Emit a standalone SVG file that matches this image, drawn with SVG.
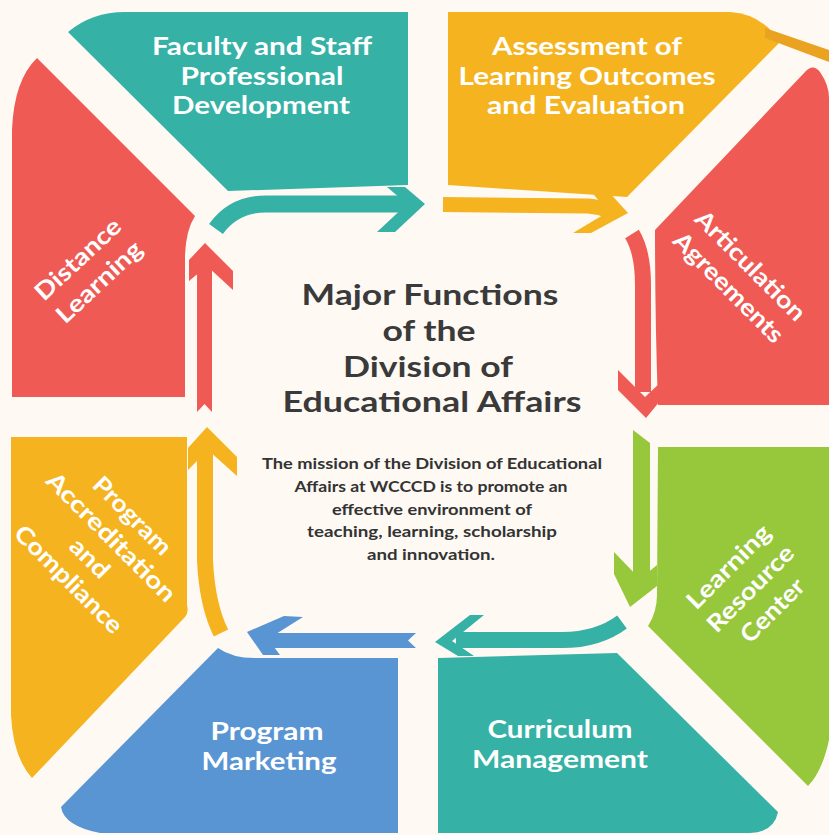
<svg xmlns="http://www.w3.org/2000/svg" width="829" height="835" viewBox="0 0 829 835">
<style>
.lbl{font-family:Lato,"Open Sans","Liberation Sans",sans-serif;font-weight:700;fill:#ffffff;font-size:24px;text-anchor:middle}
.ttl{font-family:Lato,"Open Sans","Liberation Sans",sans-serif;font-weight:700;fill:#3a3a3a;font-size:29px;text-anchor:middle}
.msn{font-family:Lato,"Open Sans","Liberation Sans",sans-serif;font-weight:700;fill:#333333;font-size:15.5px;text-anchor:middle}
.teal{fill:#35B1A6}.orange{fill:#F5B41F}.red{fill:#EF5A55}.green{fill:#97C83C}.blue{fill:#5A95D3}
.s{fill:none;stroke-linecap:butt;stroke-linejoin:round}
</style>
<rect width="829" height="835" fill="#FEF9F3"/>

<g id="faculty">
<path class="teal" d="M68,32 Q92,12 125,12 L408,12 L408,185 L228,191 Z"/>
<text class="lbl" x="262" y="55" textLength="220" lengthAdjust="spacingAndGlyphs">Faculty and Staff</text>
<text class="lbl" x="262" y="84.5" textLength="163" lengthAdjust="spacingAndGlyphs">Professional</text>
<text class="lbl" x="261" y="114" textLength="178" lengthAdjust="spacingAndGlyphs">Development</text>
</g>

<g id="assessment">
<path class="orange" d="M448,12 L730,12 Q762,14 780,42 L627,197 L448,185 Z"/>
<polygon points="765,28 829,50 829,62 765,38" fill="#E9A321"/>
<text class="lbl" x="587" y="55" textLength="190" lengthAdjust="spacingAndGlyphs">Assessment of</text>
<text class="lbl" x="587" y="84.5" textLength="257" lengthAdjust="spacingAndGlyphs">Learning Outcomes</text>
<text class="lbl" x="586" y="114" textLength="198" lengthAdjust="spacingAndGlyphs">and Evaluation</text>
</g>

<g id="articulation">
<path class="red" d="M655,230 L805,72 Q813,63 820,72 Q829,85 829,98 L829,405 L658,405 Q655,320 655,230 Z"/>
<g transform="translate(740,276) rotate(45)">
<text class="lbl" x="0" y="-6.5" textLength="145" lengthAdjust="spacingAndGlyphs">Articulation</text>
<text class="lbl" x="0" y="24.5" textLength="145" lengthAdjust="spacingAndGlyphs">Agreements</text>
</g>
</g>

<g id="lrc">
<path class="green" d="M658,447 L829,447 L829,740 Q822,772 808,786 L648,626 Q657,612 657,595 Z"/>
<g transform="translate(750,588) rotate(-45)">
<text class="lbl" x="0" y="-22" textLength="108" lengthAdjust="spacingAndGlyphs">Learning</text>
<text class="lbl" x="0" y="9" textLength="112" lengthAdjust="spacingAndGlyphs">Resource</text>
<text class="lbl" x="0" y="40" textLength="80" lengthAdjust="spacingAndGlyphs">Center</text>
</g>
</g>

<g id="curriculum">
<path class="teal" d="M438,658 L617,653 L778,812 Q774,832 750,833 L438,833 Z"/>
<text class="lbl" x="560" y="738" textLength="145" lengthAdjust="spacingAndGlyphs">Curriculum</text>
<text class="lbl" x="560" y="768" textLength="176" lengthAdjust="spacingAndGlyphs">Management</text>
</g>

<g id="marketing">
<path class="blue" d="M398,658 L398,833 L100,833 Q64,826 61,807 L218,648 Q232,658 255,658 Z"/>
<text class="lbl" x="267" y="740" textLength="113" lengthAdjust="spacingAndGlyphs">Program</text>
<text class="lbl" x="269" y="770" textLength="135" lengthAdjust="spacingAndGlyphs">Marketing</text>
</g>

<g id="accreditation">
<path class="orange" d="M11,437 L187,437 L187,605 Q189,612 185,617 L32,778 Q13,757 11,715 Z"/>
<g transform="translate(101,547) rotate(45)">
<text class="lbl" x="0" y="-36" textLength="100" lengthAdjust="spacingAndGlyphs">Program</text>
<text class="lbl" x="0" y="-6" textLength="172" lengthAdjust="spacingAndGlyphs">Accreditation</text>
<text class="lbl" x="0" y="24" textLength="46" lengthAdjust="spacingAndGlyphs">and</text>
<text class="lbl" x="0" y="54" textLength="142" lengthAdjust="spacingAndGlyphs">Compliance</text>
</g>
</g>

<g id="distance">
<path class="red" d="M12,397 L12,130 Q14,80 37,58 L195,216 Q186,230 185,255 L185,397 Z"/>
<g transform="translate(88,270) rotate(-43)">
<text class="lbl" x="0" y="-6.5" textLength="108" lengthAdjust="spacingAndGlyphs">Distance</text>
<text class="lbl" x="0" y="24.5" textLength="108" lengthAdjust="spacingAndGlyphs">Learning</text>
</g>
</g>

<g id="center">
<text class="ttl" x="430" y="305" textLength="257" lengthAdjust="spacingAndGlyphs">Major Functions</text>
<text class="ttl" x="429" y="341" textLength="93" lengthAdjust="spacingAndGlyphs">of the</text>
<text class="ttl" x="428" y="377" textLength="170" lengthAdjust="spacingAndGlyphs">Division of</text>
<text class="ttl" x="432" y="412" textLength="299" lengthAdjust="spacingAndGlyphs">Educational Affairs</text>
<text class="msn" x="432" y="469" textLength="340" lengthAdjust="spacingAndGlyphs">The mission of the Division of Educational</text>
<text class="msn" x="431" y="492" textLength="273" lengthAdjust="spacingAndGlyphs">Affairs at WCCCD is to promote an</text>
<text class="msn" x="432" y="515" textLength="200" lengthAdjust="spacingAndGlyphs">effective environment of</text>
<text class="msn" x="432" y="537" textLength="250" lengthAdjust="spacingAndGlyphs">teaching, learning, scholarship</text>
<text class="msn" x="431" y="560" textLength="128" lengthAdjust="spacingAndGlyphs">and innovation.</text>
</g>

<g id="connectors">
<path class="s" d="M216,229 Q234,204 266,204 L412,204" stroke="#35B1A6" stroke-width="17"/>
<polygon class="teal" points="387,187 405,187 425,204 395,232 377,232 407,204"/>

<path class="s" d="M443,204.5 L588,206 Q600,207 610,211" stroke="#F5B41F" stroke-width="15"/>
<polygon class="orange" points="590,190 607,190 628,213 591,233 573,233 608,212"/>

<path class="s" d="M632,234 Q643,252 643,285 L643,392" stroke="#EF5A55" stroke-width="16"/>
<polygon class="red" points="618,370 645,397 660,383 660,401 646,418 618,390"/>

<polygon class="green" points="633,430 650,443 650,582 633,582"/>
<polygon class="green" points="614,552 640,579 657,565 657,586 630,607 614,574"/>

<path class="s" d="M622,622 Q598,640 562,640 L456,640" stroke="#35B1A6" stroke-width="16"/>
<polygon class="teal" points="470,615 435,642 458,656 474,656 452,641 484,615"/>

<polygon class="blue" points="262,633 416,633 408,640.5 416,648 262,648"/>
<polygon class="blue" points="284,616 247,632 263,655 280,655 268,639 303,617"/>

<path class="s" d="M205,446 L205,560 Q207,605 221,633" stroke="#F5B41F" stroke-width="16"/>
<polygon class="orange" points="207,427 237,457 237,476 208,450 188,470 188,448"/>

<polygon class="red" points="197,262 212,262 212,412 204.5,404 197,412"/>
<polygon class="red" points="205,243 233,271 233,290 207,266 189,281 189,260"/>
</g>
</svg>
